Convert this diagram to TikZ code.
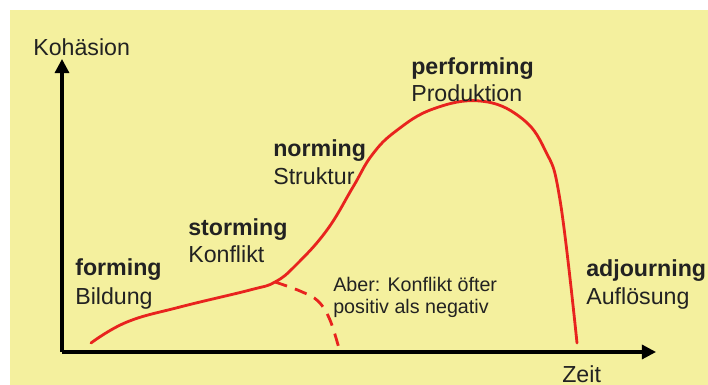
\documentclass[tikz,border=0pt]{standalone}
\usepackage{fontspec}
\setmainfont{Liberation Sans}
\usetikzlibrary{arrows.meta}
\definecolor{paper}{HTML}{F4F09E}
\definecolor{ink}{HTML}{222222}
\definecolor{curve}{HTML}{E8231E}

\begin{document}
\begin{tikzpicture}[>={Triangle[length=10pt,width=10pt]}]
\tikzset{phase/.style={ink,anchor=base west,inner sep=0pt,font=\fontsize{16.5}{19.8}\selectfont\bfseries},
  word/.style={ink,anchor=base west,inner sep=0pt,font=\fontsize{16.5}{19.8}\selectfont},
  note/.style={ink,anchor=base west,inner sep=0pt,font=\fontsize{14}{16.8}\selectfont}}

\useasboundingbox (0,0) rectangle (17.7,9.625);
\fill[paper] (.25,0) rectangle (17.7,9.375);

% axes
\draw[->,line width=2.2pt] (1.55,.825)--(1.55,8.15);
\draw[->,line width=2.2pt] (1.55,.825)--(16.4,.825);
\node[word] (kohaesion) at (.825,8.225) {Kohäsion};
\node[word] (zeit) at (14.05,.07) {Zeit};

% phase curve
\coordinate (K) at (6.875,2.575);
\draw[curve,line width=2pt,line cap=round] plot[smooth,tension=.7] coordinates {
  (2.275,1.05) (3.175,1.575) (4.5,1.95) (6.25,2.375) (K) (7.4,3.0)
  (8.175,3.875) (8.825,4.95) (9.3,5.75) (9.9,6.35) (10.825,6.9)
  (12.0,7.1) (13.0,6.7) (13.625,5.875) (14.0,4.625) (14.425,1.05)};
\draw[curve,line width=2pt,dash pattern=on 9pt off 6pt] plot[smooth,tension=.6] coordinates {
  (K) (7.5,2.35) (7.95,2.1) (8.25,1.625) (8.5,.825)};

\node[phase] (forming) at (1.875,2.725) {forming};
\node[word] (bildung) at (1.875,2.0) {Bildung};
\node[phase] (storming) at (4.7,3.725) {storming};
\node[word] (konflikt) at (4.7,3.05) {Konflikt};
\node[phase] (norming) at (6.825,5.7) {norming};
\node[word] (struktur) at (6.825,5.0) {Struktur};
\node[phase] (performing) at (10.275,7.75) {performing};
\node[word] (produktion) at (10.275,7.075) {Produktion};
\node[phase] (adjourning) at (14.65,2.7) {adjourning};
\node[word] (aufloesung) at (14.65,2.0) {Auflösung};
\node[note] (aber) at (8.325,2.325) {Aber: Konflikt öfter};
\node[note] (positiv) at (8.325,1.775) {positiv als negativ};
\end{tikzpicture}
\end{document}
